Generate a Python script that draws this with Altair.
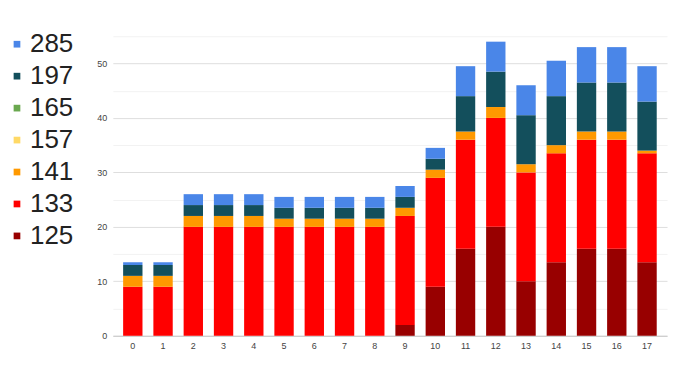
import altair as alt
import pandas as pd

categories = [str(i) for i in range(18)]
series_names = ["125", "133", "141", "157", "165", "197", "285"]
legend_order = ["285", "197", "165", "157", "141", "133", "125"]
colors = {"285": "#4a86e8", "197": "#134f5c", "165": "#6aa84f", "157": "#ffd966",
          "141": "#ff9900", "133": "#ff0000", "125": "#980000"}

s125 = [0, 0, 0, 0, 0, 0, 0, 0, 0, 2, 9, 16, 20, 10, 13.5, 16, 16, 13.5]
s133 = [9, 9, 20, 20, 20, 20, 20, 20, 20, 20, 20, 20, 20, 20, 20, 20, 20, 20]
s141 = [2, 2, 2, 2, 2, 1.5, 1.5, 1.5, 1.5, 1.5, 1.5, 1.5, 2, 1.5, 1.5, 1.5, 1.5, 0.5]
s157 = [0] * 18
s165 = [0] * 18
s197 = [2, 2, 2, 2, 2, 2, 2, 2, 2, 2, 2, 6.5, 6.5, 9, 9, 9, 9, 9]
s285 = [0.5, 0.5, 2, 2, 2, 2, 2, 2, 2, 2, 2, 5.5, 5.5, 5.5, 6.5, 6.5, 6.5, 6.5]

values = {"125": s125, "133": s133, "141": s141, "157": s157,
          "165": s165, "197": s197, "285": s285}

rows = []
for rank, name in enumerate(series_names):
    for c, v in zip(categories, values[name]):
        rows.append({"x": c, "series": name, "value": v, "rank": rank})
df = pd.DataFrame(rows)

font = "Liberation Sans"

chart = alt.Chart(df).mark_bar().encode(
    x=alt.X("x:N", sort=categories, title=None,
            scale=alt.Scale(paddingInner=0.36, paddingOuter=0.34),
            axis=alt.Axis(labelAngle=0, ticks=False, domainColor="#c8c8c8",
                          labelColor="#444444", labelFontSize=9, labelFont=font,
                          labelPadding=6, grid=False)),
    y=alt.Y("value:Q", stack="zero", title=None,
            scale=alt.Scale(domain=[0, 55], nice=False),
            axis=alt.Axis(values=list(range(0, 56, 5)), ticks=False, domain=False,
                          labelExpr="datum.value % 10 == 0 ? datum.label : ''",
                          labelColor="#444444", labelFontSize=9, labelFont=font,
                          labelPadding=6,
                          gridColor={"condition": {"test": "datum.value % 10 == 0", "value": "#dedede"},
                                     "value": "#f2f2f2"})),
    color=alt.Color("series:N",
                    scale=alt.Scale(domain=legend_order, range=[colors[k] for k in legend_order]),
                    legend=alt.Legend(title=None, orient="none", legendX=-116, legendY=-5,
                                      padding=0, symbolOffset=7,
                                      symbolType="square", symbolSize=45, symbolStrokeWidth=0,
                                      labelFontSize=26, labelFont=font, labelColor="#222222",
                                      rowPadding=6, labelOffset=0, symbolOpacity=1)),
    order=alt.Order("rank:Q", sort="ascending"),
).properties(width=555, height=300,
             autosize=alt.AutoSizeParams(type="none"),
             padding={"left": 105, "top": 28, "right": 5, "bottom": 30}).configure_view(stroke=None)

chart.save("out.html", embed_options={"renderer": "svg", "actions": False})
